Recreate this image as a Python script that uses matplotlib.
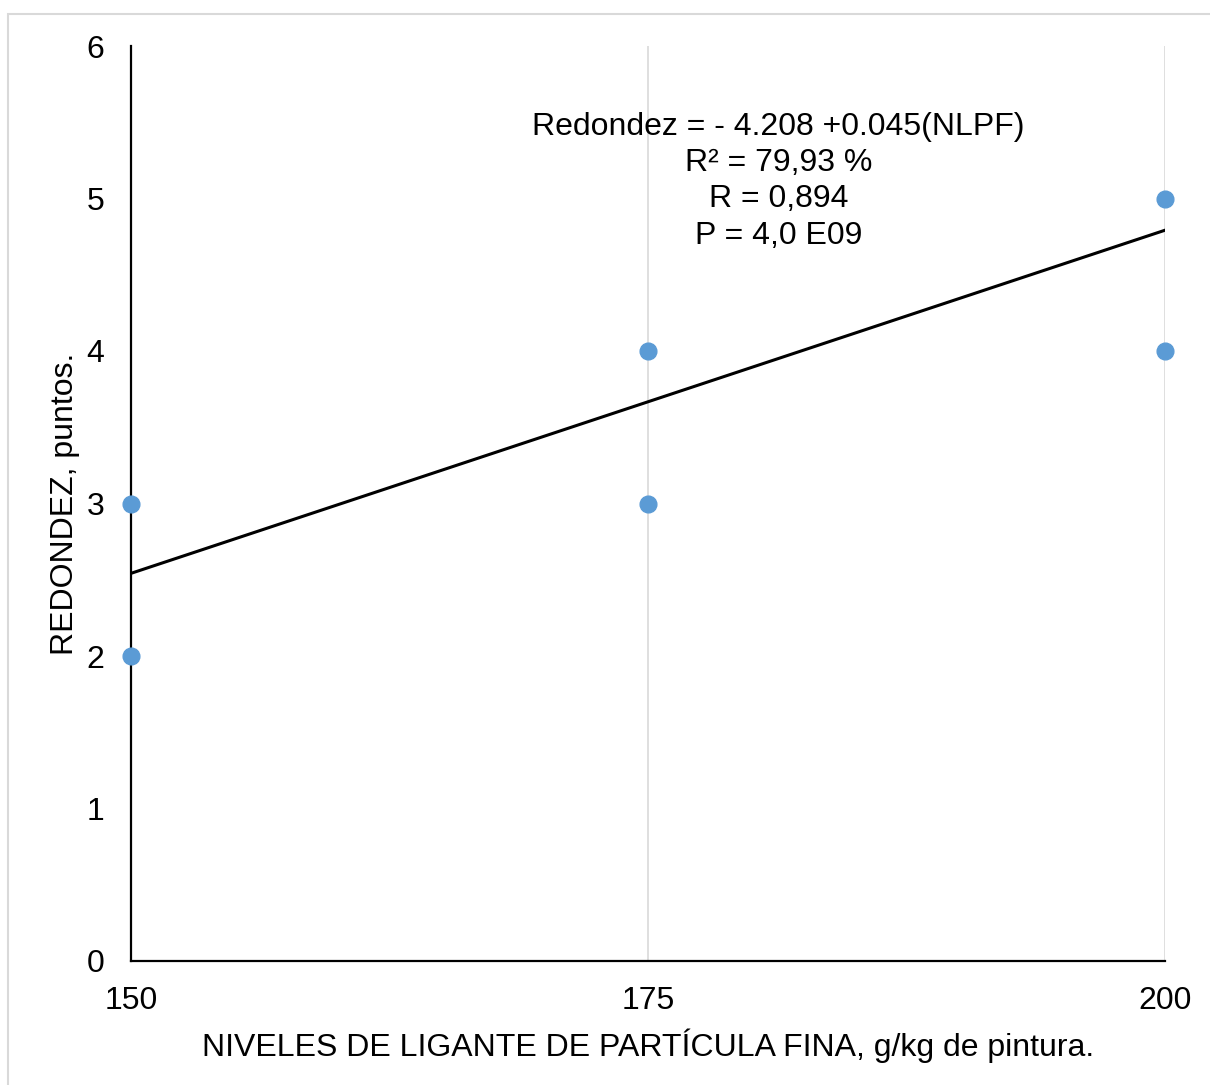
import matplotlib.pyplot as plt
import numpy as np
from matplotlib.patches import Rectangle

plt.rcParams['font.family'] = ['Liberation Sans', 'DejaVu Sans']

# data
niveles = [150, 150, 175, 175, 200, 200]
redondez = [3, 2, 4, 3, 5, 4]
intercepto = -4.208
pendiente = 0.045
x_ticks = [150, 175, 200]
y_ticks = [0, 1, 2, 3, 4, 5, 6]
ecuacion = ["Redondez = - 4.208 +0.045(NLPF)", "R² = 79,93 %", "R = 0,894", "P = 4,0 E09"]

fig = plt.figure(figsize=(12.1, 10.85), dpi=100)
ax = fig.add_axes([131 / 1210, 1 - 961 / 1085, 1034 / 1210, 915 / 1085])

# light frame around the chart area
fig.patches.append(Rectangle((8 / 1210, -0.01), 1.02, 1 - 14 / 1085 + 0.01,
                             transform=fig.transFigure, fill=False,
                             edgecolor='#d9d9d9', linewidth=1.5))

ax.set_xlim(150, 200)
ax.set_ylim(0, 6)
ax.set_xticks(x_ticks)
ax.set_yticks(y_ticks)
ax.grid(axis='x', color='#d9d9d9', linewidth=1.2)
ax.set_axisbelow(True)

for s in ['top', 'right']:
    ax.spines[s].set_visible(False)
for s in ['left', 'bottom']:
    ax.spines[s].set_color('black')
    ax.spines[s].set_linewidth(1.6)
ax.tick_params(length=0, labelsize=23)
ax.tick_params(axis='y', pad=19)
ax.tick_params(axis='x', pad=18)

xs = np.array([150, 200])
ax.plot(xs, intercepto + pendiente * xs, color='black', linewidth=2.2, zorder=3)
ax.scatter(niveles, redondez, s=145, color='#5B9BD5', zorder=4, clip_on=False)

ax.text(181.3, 5.567, "\n".join(ecuacion), ha='center', va='top', fontsize=23,
        linespacing=1.27)

ax.set_xlabel("NIVELES DE LIGANTE DE PARTÍCULA FINA, g/kg de pintura.", fontsize=23,
              labelpad=9)
ax.set_ylabel("REDONDEZ, puntos.", fontsize=23, labelpad=5)

fig.savefig("out.png", dpi=100)
